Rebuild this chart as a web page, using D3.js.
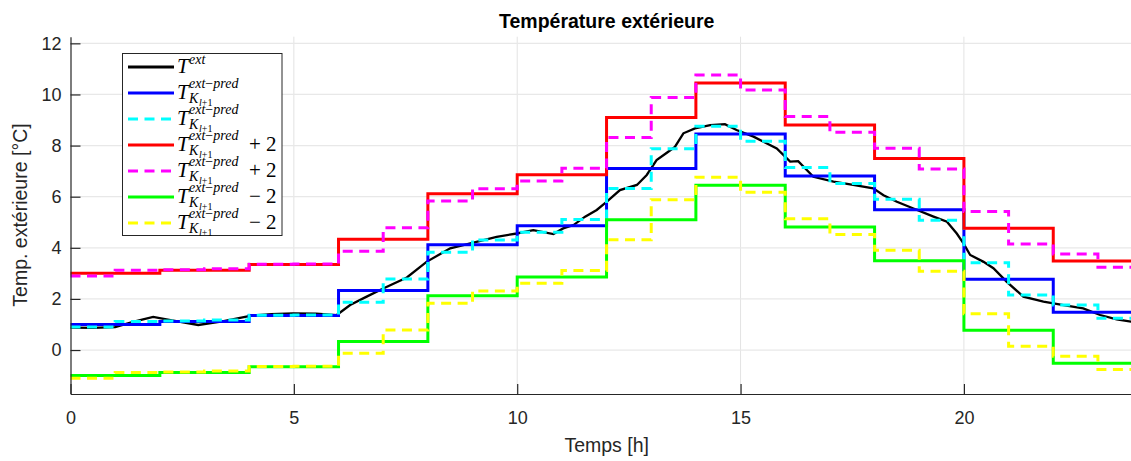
<!DOCTYPE html>
<html><head><meta charset="utf-8">
<script src="https://cdn.jsdelivr.net/npm/d3@7"></script>
<style>body{margin:0;background:#fff}svg{display:block}</style>
</head><body>
<svg id="c" width="1131" height="461"></svg>
<script>
// ---- data ----
const xTicks = [0, 5, 10, 15, 20];
const yTicks = [0, 2, 4, 6, 8, 10, 12];
const extTime = [0,0.5,1.0,1.4,1.85,2.3,2.86,3.4,4.02,4.5,4.98,5.5,5.96,6.26,6.63,7.0,7.53,7.97,8.5,9.02,9.54,9.99,10.36,10.81,11.03,11.26,11.52,11.78,12.0,12.3,12.68,12.9,13.12,13.35,13.53,13.72,13.98,14.32,14.65,14.91,15.29,15.81,16.11,16.29,16.63,17.08,17.52,17.97,18.2,18.5,18.87,19.32,19.62,19.84,19.99,20.14,20.44,20.66,20.96,21.33,21.78,22.23,22.67,23.05,23.42,23.74,24];
const extTemp = [0.88,0.87,0.9,1.1,1.30,1.15,0.98,1.12,1.34,1.40,1.43,1.42,1.37,1.76,2.09,2.41,2.84,3.45,3.98,4.2,4.43,4.56,4.69,4.54,4.76,4.89,5.22,5.48,5.8,6.26,6.46,6.85,7.43,7.72,7.95,8.48,8.67,8.8,8.84,8.61,8.35,7.89,7.37,7.39,6.78,6.59,6.46,6.33,6.06,5.80,5.54,5.22,5.02,4.56,4.17,3.72,3.45,3.20,2.67,2.09,1.89,1.76,1.63,1.37,1.20,1.11,1.08];
const hours2 = [0,2,4,6,8,10,12,14,16,18,20,22];
const hours1 = [0,1,2,3,4,5,6,7,8,9,10,11,12,13,14,15,16,17,18,19,20,21,22,23];
const predK = [1.00,1.12,1.35,2.33,4.12,4.86,7.10,8.45,6.81,5.49,2.77,1.48];
const predKplus = [3.00,3.12,3.35,4.33,6.12,6.86,9.10,10.45,8.81,7.49,4.77,3.48];
const predKminus = [-1.00,-0.88,-0.65,0.33,2.12,2.86,5.10,6.45,4.81,3.49,0.77,-0.52];
const predH = [0.90,1.12,1.14,1.18,1.36,1.37,1.87,2.78,3.83,4.31,4.61,5.11,6.32,7.88,8.76,8.17,7.14,6.52,5.90,5.08,3.42,2.15,1.76,1.24];
const predHplus = [2.90,3.12,3.14,3.18,3.36,3.37,3.87,4.78,5.83,6.31,6.61,7.11,8.32,9.88,10.76,10.17,9.14,8.52,7.90,7.08,5.42,4.15,3.76,3.24];
const predHminus = [-1.10,-0.88,-0.86,-0.82,-0.64,-0.63,-0.13,0.78,1.83,2.31,2.61,3.11,4.32,5.88,6.76,6.17,5.14,4.52,3.90,3.08,1.42,0.15,-0.24,-0.76];
const endHour = 24;

// ---- layout ----
const svg = d3.select("#c");
const L = 70.5, R = 1142.6, T = 36.7, B = 394;
const x = d3.scaleLinear().domain([0, 24]).range([L, R]);
const y = d3.scaleLinear().domain([-1.72, 12.26]).range([B, T]);
const axisCol = "#262626";
const font = "'Liberation Sans', Arial, Helvetica, sans-serif";

// grid
const g = svg.append("g");
g.selectAll(".gx").data(xTicks.filter(d => d > 0)).enter().append("line")
  .attr("x1", d => x(d)).attr("x2", d => x(d)).attr("y1", T).attr("y2", B)
  .attr("stroke", "#e3e3e3").attr("stroke-width", 1);
g.selectAll(".gy").data(yTicks).enter().append("line")
  .attr("x1", L).attr("x2", R).attr("y1", d => y(d)).attr("y2", d => y(d))
  .attr("stroke", "#e8e8e8").attr("stroke-width", 1.3);

// series
function stepData(hrs, vals) {
  const d = hrs.map((h, i) => [h, vals[i]]);
  d.push([endHour, vals[vals.length - 1]]);
  return d;
}
const step = d3.line().x(d => x(d[0])).y(d => y(d[1])).curve(d3.curveStepAfter);
const smooth = d3.line().x(d => x(d[0])).y(d => y(d[1]));
const series = [
  {data: extTime.map((t, i) => [t, extTemp[i]]), color: "#000000", dash: null, w: 2.3, gen: smooth},
  {data: stepData(hours2, predK), color: "#0000ff", dash: null, w: 3, gen: step},
  {data: stepData(hours1, predH), color: "#00ffff", dash: "10,6.5", w: 3, gen: step},
  {data: stepData(hours2, predKplus), color: "#ff0000", dash: null, w: 3, gen: step},
  {data: stepData(hours1, predHplus), color: "#ff00ff", dash: "10,6.5", w: 3, gen: step},
  {data: stepData(hours2, predKminus), color: "#00ff00", dash: null, w: 3, gen: step},
  {data: stepData(hours1, predHminus), color: "#ffff00", dash: "10,6.5", w: 3, gen: step}
];
series.forEach(s => {
  svg.append("path").attr("d", s.gen(s.data)).attr("fill", "none")
    .attr("stroke", s.color).attr("stroke-width", s.w)
    .attr("stroke-dasharray", s.dash).attr("stroke-linejoin", "miter");
});

// axes
const ax = svg.append("g").attr("transform", `translate(0,${B})`)
  .call(d3.axisBottom(x).tickValues(xTicks).tickSizeInner(-10).tickSizeOuter(0).tickPadding(17));
const ay = svg.append("g").attr("transform", `translate(${L},0)`)
  .call(d3.axisLeft(y).tickValues(yTicks).tickSizeInner(-10).tickSizeOuter(0).tickPadding(9));
[ax, ay].forEach(a => {
  a.select(".domain").attr("stroke", axisCol).attr("stroke-width", 1.2);
  a.selectAll(".tick line").attr("stroke", axisCol).attr("stroke-width", 1.2);
  a.selectAll(".tick text").attr("fill", axisCol).style("font-family", font).style("font-size", "18px");
});

// titles
svg.append("text").attr("x", 606.7).attr("y", 28).attr("text-anchor", "middle")
  .style("font-family", font).style("font-size", "19.5px").style("font-weight", "bold")
  .attr("fill", "#000").text("Température extérieure");
svg.append("text").attr("x", 606.7).attr("y", 452).attr("text-anchor", "middle")
  .style("font-family", font).style("font-size", "19.5px").attr("fill", axisCol).text("Temps [h]");
svg.append("text").attr("transform", "translate(27,215) rotate(-90)").attr("text-anchor", "middle")
  .style("font-family", font).style("font-size", "19.5px").attr("fill", axisCol).text("Temp. extérieure [°C]");

// legend
const legItems = [
  {color: "#000000", dash: null, pred: false, tail: ""},
  {color: "#0000ff", dash: null, pred: true, tail: ""},
  {color: "#00ffff", dash: "10,6.5", pred: true, tail: ""},
  {color: "#ff0000", dash: null, pred: true, tail: "+ 2"},
  {color: "#ff00ff", dash: "10,6.5", pred: true, tail: "+ 2"},
  {color: "#00ff00", dash: null, pred: true, tail: "− 2"},
  {color: "#ffff00", dash: "10,6.5", pred: true, tail: "− 2"}
];
const lg = svg.append("g");
lg.append("rect").attr("x", 122.5).attr("y", 53.5).attr("width", 159.5).attr("height", 182)
  .attr("fill", "#fff").attr("stroke", "#262626").attr("stroke-width", 1);
const serif = "'Liberation Serif', 'Times New Roman', serif";
legItems.forEach((it, i) => {
  const ly = 67 + i * 26;
  lg.append("line").attr("x1", 128).attr("x2", 174).attr("y1", ly).attr("y2", ly)
    .attr("stroke", it.color).attr("stroke-width", 3).attr("stroke-dasharray", it.dash);
  const t = lg.append("text").style("font-family", serif).attr("fill", "#000");
  t.append("tspan").attr("x", 177).attr("y", ly + 6).style("font-style", "italic").style("font-size", "21px").text("T");
  if (!it.pred) {
    t.append("tspan").attr("x", 189).attr("y", ly - 3).style("font-style", "italic").style("font-size", "14px").text("ext");
  } else {
    t.append("tspan").attr("x", 189).attr("y", ly - 5).style("font-style", "italic").style("font-size", "14px").text("ext");
    t.append("tspan").style("font-size", "14px").text("−");
    t.append("tspan").style("font-style", "italic").style("font-size", "14px").text("pred");
    t.append("tspan").attr("x", 189).attr("y", ly + 10).style("font-style", "italic").style("font-size", "14px").text("K");
    t.append("tspan").attr("x", 199).attr("y", ly + 13).style("font-style", "italic").style("font-size", "10px").text("l");
    t.append("tspan").style("font-size", "10px").text("+1");
    if (it.tail) {
      t.append("tspan").attr("x", 249).attr("y", ly + 6).style("font-size", "21px").text(it.tail.replace(" ", "\u00a0"));
    }
  }
});
</script>
</body></html>
